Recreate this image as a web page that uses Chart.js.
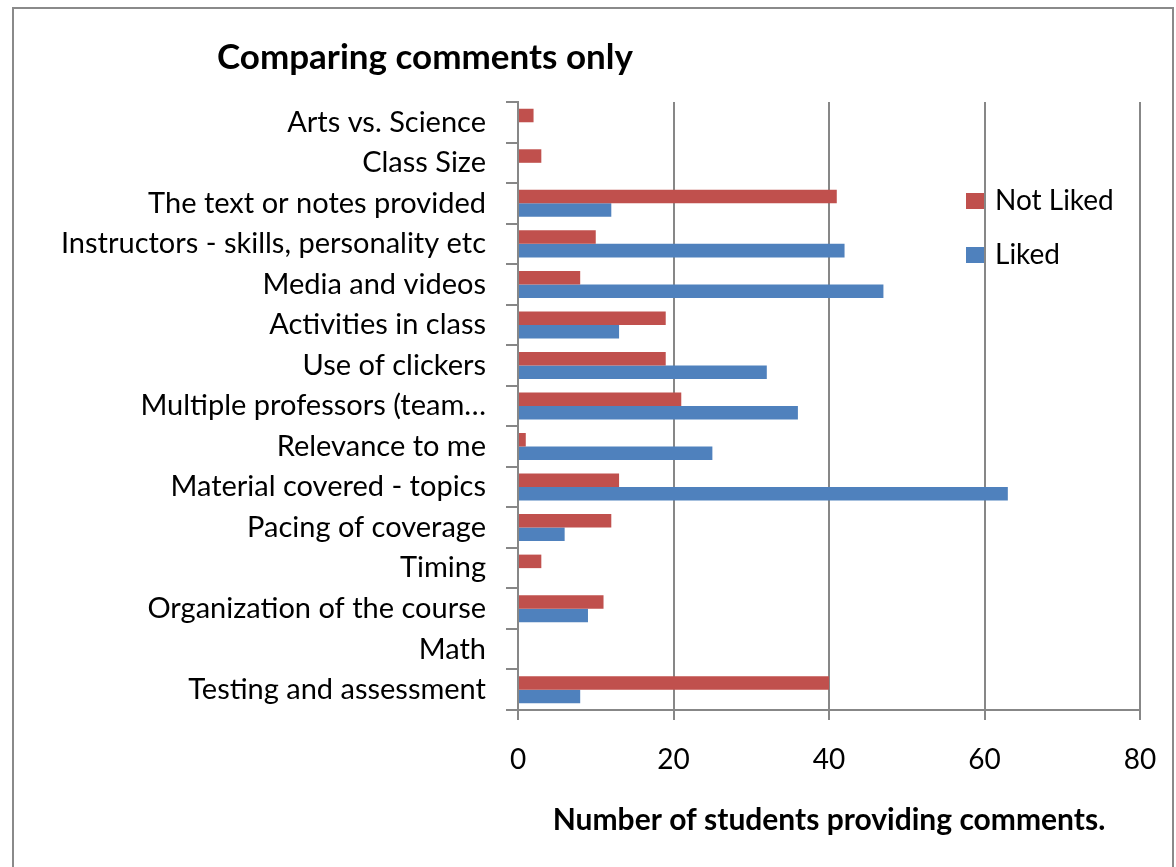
<!DOCTYPE html>
<html>
<head>
<meta charset="utf-8">
<script src="https://cdn.jsdelivr.net/npm/chart.js@4/dist/chart.umd.min.js"></script>
<style>
  html, body { margin: 0; padding: 0; background: #fff; }
  #frame {
    position: absolute; left: 12px; top: 7px; width: 1162px; height: 900px;
    border: 2px solid #8a8a8a; box-sizing: border-box;
  }
  #wrap { position: absolute; left: 0; top: 0; width: 1176px; height: 867px; }
</style>
</head>
<body>
<div id="frame"></div>
<div id="wrap"><canvas id="chart" width="1176" height="867"></canvas></div>
<script>
// Survey topics, listed top to bottom
const categories = [
  'Arts vs. Science',
  'Class Size',
  'The text or notes provided',
  'Instructors - skills, personality etc',
  'Media and videos',
  'Activities in class',
  'Use of clickers',
  'Multiple professors (team…',
  'Relevance to me',
  'Material covered - topics',
  'Pacing of coverage',
  'Timing',
  'Organization of the course',
  'Math',
  'Testing and assessment'
];

// Number of students commenting on each topic
const notLiked = [2, 3, 41, 10, 8, 19, 19, 21, 1, 13, 12, 3, 11, 0, 40];
const liked    = [0, 0, 12, 42, 47, 13, 32, 36, 25, 63, 6, 0, 9, 0, 8];

const seriesNames = ['Not Liked', 'Liked'];
const chartTitle = 'Comparing comments only';
const axisTitle = 'Number of students providing comments.';
const xTicks = [0, 20, 40, 60, 80];

const FONT = 'Lato, "Open Sans", sans-serif';
const GRID = '#878787';

// Chart title and a vertical legend drawn inside the plot
const overlay = {
  id: 'overlay',
  afterDraw(chart, args, opts) {
    const ctx = chart.ctx;
    ctx.save();
    ctx.fillStyle = '#000';
    ctx.textBaseline = 'middle';
    ctx.textAlign = 'left';
    ctx.font = 'bold 35px ' + FONT;
    ctx.fillText(opts.title, opts.titleX, opts.titleY);

    ctx.font = '28px ' + FONT;
    chart.data.datasets.forEach((ds, i) => {
      const y = opts.legendY + i * opts.legendGap;
      ctx.fillStyle = ds.backgroundColor;
      ctx.fillRect(opts.legendX, y - 8, 18, 16);
      ctx.fillStyle = '#000';
      ctx.fillText(ds.label, opts.legendX + 29, y);
    });
    ctx.restore();
  }
};

new Chart(document.getElementById('chart'), {
  type: 'bar',
  data: {
    labels: categories,
    datasets: [
      { label: seriesNames[0], data: notLiked, backgroundColor: '#C0504D' },
      { label: seriesNames[1], data: liked, backgroundColor: '#4F81BD' }
    ]
  },
  options: {
    indexAxis: 'y',
    responsive: false,
    animation: false,
    devicePixelRatio: 1,
    layout: { padding: { top: 102, right: 36, bottom: 0, left: 0 } },
    datasets: { bar: { categoryPercentage: 0.667, barPercentage: 1.0 } },
    plugins: {
      legend: { display: false },
      tooltip: { enabled: false },
      overlay: {
        title: chartTitle, titleX: 217, titleY: 58,
        legendX: 966, legendY: 201, legendGap: 54
      }
    },
    scales: {
      x: {
        min: 0, max: 80,
        afterBuildTicks(scale) { scale.ticks = xTicks.map(v => ({ value: v })); },
        afterFit(scale) {
          scale.height = 157;
          scale.paddingLeft = 0;
          scale.paddingRight = 0;
        },
        grid: { color: GRID, lineWidth: 2, tickLength: 10, drawTicks: true },
        border: { color: GRID, width: 2 },
        ticks: { color: '#000', font: { family: FONT, size: 28 }, padding: 23 },
        title: {
          display: true, text: axisTitle, color: '#000',
          font: { family: FONT, size: 30, weight: 'bold' },
          padding: { top: 0, bottom: 29 }
        }
      },
      y: {
        afterFit(scale) {
          scale.width = 518;
          scale.paddingTop = 0;
          scale.paddingBottom = 0;
        },
        grid: { drawOnChartArea: false, color: GRID, lineWidth: 2, tickLength: 12, offset: true },
        border: { color: GRID, width: 2 },
        ticks: { color: '#000', font: { family: FONT, size: 29 }, padding: 20, autoSkip: false }
      }
    }
  },
  plugins: [overlay]
});
</script>
</body>
</html>
